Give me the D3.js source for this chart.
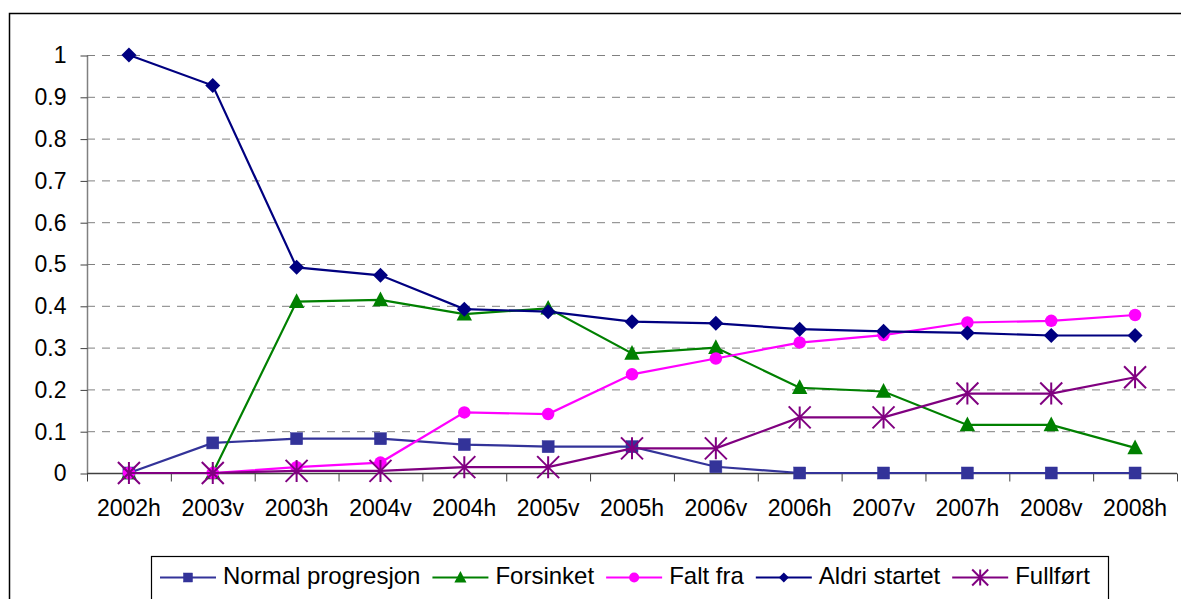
<!DOCTYPE html>
<html>
<head>
<meta charset="utf-8">
<script src="https://cdn.jsdelivr.net/npm/d3@7"></script>
<style>
  body { margin: 0; background: #fff; }
  svg { display: block; font-family: "Liberation Sans", Arial, sans-serif; }
</style>
</head>
<body>
<svg id="chart" width="1181" height="599"></svg>
<script>
// categories (semesters)
const categories = ["2002h", "2003v", "2003h", "2004v", "2004h", "2005v", "2005h",
  "2006v", "2006h", "2007v", "2007h", "2008v", "2008h"];

const yTicks = [0, 0.1, 0.2, 0.3, 0.4, 0.5, 0.6, 0.7, 0.8, 0.9, 1];

// series values
const normalProgresjon = [0, 0.072, 0.082, 0.082, 0.068, 0.063, 0.063, 0.015, 0, 0, 0, 0, 0];
const forsinket = [0, 0, 0.41, 0.414, 0.38, 0.394, 0.286, 0.3, 0.204, 0.195, 0.115, 0.115, 0.06];
const faltFra = [0, 0, 0.014, 0.025, 0.145, 0.141, 0.236, 0.274, 0.312, 0.33, 0.36, 0.364, 0.378];
const aldriStartet = [1, 0.927, 0.492, 0.473, 0.392, 0.386, 0.362, 0.358, 0.344, 0.339, 0.335, 0.329, 0.329];
const fullfort = [0, 0, 0.005, 0.005, 0.014, 0.014, 0.059, 0.059, 0.133, 0.133, 0.19, 0.19, 0.229];

const series = [
  { name: "Normal progresjon", values: normalProgresjon, color: "#333399", marker: "square" },
  { name: "Forsinket", values: forsinket, color: "#008000", marker: "triangle" },
  { name: "Falt fra", values: faltFra, color: "#ff00ff", marker: "circle" },
  { name: "Aldri startet", values: aldriStartet, color: "#000080", marker: "diamond" },
  { name: "Fullført", values: fullfort, color: "#800080", marker: "star" }
];

const svg = d3.select("#chart");

// outer frame (runs off the right / bottom edge)
svg.append("path")
  .attr("d", "M9.5,610 V13.5 H1200")
  .attr("fill", "none").attr("stroke", "#000").attr("stroke-width", 1.5);

const x = d3.scaleBand().domain(categories).range([87, 1177]);
const y = d3.scaleLinear().domain([0, 1]).range([473, 55]);
const cx = c => x(c) + x.bandwidth() / 2;

// gridlines
svg.append("g").selectAll("line")
  .data(yTicks.filter(t => t > 0))
  .enter().append("line")
  .attr("x1", 87).attr("x2", 1177)
  .attr("y1", d => y(d) + 0.5).attr("y2", d => y(d) + 0.5)
  .attr("stroke", "#808080").attr("stroke-dasharray", "8,7");

// y axis
var yAxis = svg.append("g")
  .attr("transform", "translate(87.5,0.5)")
  .call(d3.axisLeft(y).tickValues(yTicks).tickSize(7).tickPadding(14).tickFormat(d3.format("")));
yAxis.select(".domain").attr("stroke", "#808080").attr("stroke-width", 1.5).attr("d", "M0,55V473");
yAxis.selectAll(".tick line").attr("stroke", "#404040");
yAxis.selectAll(".tick text").attr("font-size", 23).attr("fill", "#000")
  .attr("font-family", "Liberation Sans, Arial, sans-serif");

// x axis
var xAxis = svg.append("g")
  .attr("transform", "translate(0,473.5)")
  .call(d3.axisBottom(x).tickSize(0).tickPadding(26));
xAxis.select(".domain").attr("stroke", "#404040").attr("stroke-width", 1.5).attr("d", "M87,0H1177");
xAxis.selectAll(".tick text").attr("font-size", 23).attr("fill", "#000")
  .attr("font-family", "Liberation Sans, Arial, sans-serif");
// boundary ticks between categories
xAxis.selectAll("line.bound")
  .data(categories.concat(["end"]))
  .enter().append("line")
  .attr("class", "bound")
  .attr("x1", (d, i) => (i < categories.length ? x(d) : 1177) + 0.5)
  .attr("x2", (d, i) => (i < categories.length ? x(d) : 1177) + 0.5)
  .attr("y1", 0).attr("y2", 8)
  .attr("stroke", "#404040");

var drawMarker = (g, type, color, s) => {
  if (type == "square") {
    g.append("rect").attr("x", -s / 2).attr("y", -s / 2).attr("width", s).attr("height", s)
      .attr("fill", color).attr("stroke", color).attr("stroke-width", 0.5);
  } else if (type == "triangle") {
    g.append("path").attr("d", `M0,${-s * 0.6}L${s * 0.55},${s * 0.45}L${-s * 0.55},${s * 0.45}Z`)
      .attr("fill", color);
  } else if (type == "circle") {
    g.append("circle").attr("r", s / 2).attr("fill", color);
  } else if (type == "diamond") {
    g.append("path").attr("d", `M0,${-s / 2}L${s / 2},0L0,${s / 2}L${-s / 2},0Z`).attr("fill", color);
  } else if (type == "star") {
    var h = s / 2;
    g.append("path")
      .attr("d", `M${-h},${-h}L${h},${h}M${h},${-h}L${-h},${h}M0,${-h}L0,${h}`)
      .attr("stroke", color).attr("stroke-width", 2).attr("fill", "none");
  }
}

const markerSize = { square: 12, triangle: 14, circle: 12.5, diamond: 15, star: 22 };
const legendSize = { square: 9, triangle: 11, circle: 10, diamond: 10, star: 16 };

var line = d3.line().x((d, i) => cx(categories[i])).y(d => y(d));

series.forEach(s => {
  var g = svg.append("g");
  g.append("path").datum(s.values)
    .attr("d", line)
    .attr("fill", "none").attr("stroke", s.color).attr("stroke-width", 2.2);
  s.values.forEach((v, i) => {
    var m = g.append("g").attr("transform", `translate(${cx(categories[i])},${y(v)})`);
    drawMarker(m, s.marker, s.color, markerSize[s.marker]);
  });
});

// legend
var legend = svg.append("g");
legend.append("rect")
  .attr("x", 151.5).attr("y", 556.5).attr("width", 957).attr("height", 60)
  .attr("fill", "#fff").attr("stroke", "#000").attr("stroke-width", 1.2);

var lx = 160;
series.forEach(s => {
  var item = legend.append("g").attr("transform", `translate(${lx},0)`);
  item.append("line").attr("x1", 0).attr("x2", 56).attr("y1", 577.5).attr("y2", 577.5)
    .attr("stroke", s.color).attr("stroke-width", 2);
  drawMarker(item.append("g").attr("transform", "translate(28,577.5)"), s.marker, s.color, legendSize[s.marker]);
  var t = item.append("text").attr("x", 63).attr("y", 584)
    .attr("font-size", 24).attr("fill", "#000").text(s.name);
  lx += 63 + t.node().getComputedTextLength() + 12;
});
</script>
</body>
</html>
